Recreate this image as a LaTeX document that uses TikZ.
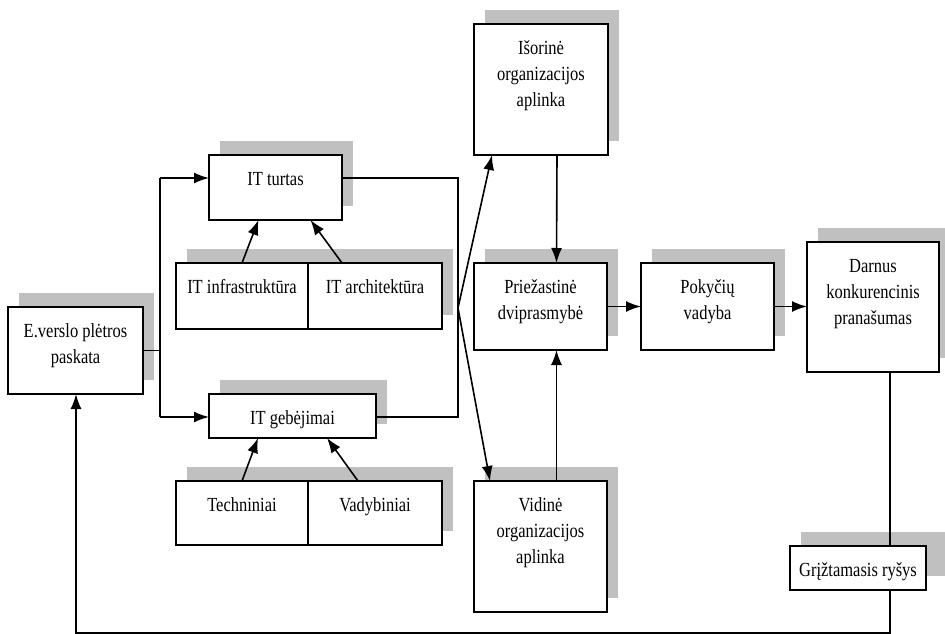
\documentclass[tikz,border=0pt]{standalone}
\usepackage{fontspec}
\setmainfont{Liberation Serif}[FakeStretch=0.825]
\usetikzlibrary{arrows.meta,calc}
\definecolor{shadowgray}{RGB}{192,192,192}
\tikzset{
  boxst/.style={draw=black, line width=1.5pt, fill=white, inner sep=0pt, outer sep=0pt},
  txtst/.style={inner sep=0pt, align=center, font=\fontsize{20}{26}\selectfont, anchor=north},
  shadowst/.style={fill=shadowgray, draw=none},
  conn/.style={line width=1.2pt},
  arr/.style={line width=1.6pt, -{Latex[length=15pt,width=11pt]}},
}
\newcommand\shbox[6]{%
  \path[shadowst] (#2+11,#3-14) rectangle (#4+11,#5-14);
  \node[boxst, minimum width={#4-#2}, minimum height={#5-#3}] (#1) at ({(#2+#4)/2},{(#3+#5)/2}) {};
  \node[txtst] (#1-t) at ({(#2+#4)/2},{#3+12.5}) {#6};
}
\begin{document}
\begin{tikzpicture}[x=1pt,y=-1pt]
\useasboundingbox (0,0) rectangle (945,634);
\shbox{ev}{8}{307}{143}{394}{\strut E.verslo plėtros\\\strut paskata}
\shbox{itt}{209}{155}{342}{220}{\strut IT turtas}
\shbox{itinf}{176}{263}{308}{329}{\strut IT infrastruktūra}
\shbox{itarch}{308}{263}{442}{329}{\strut IT architektūra}
\shbox{itg}{209}{394}{376}{438}{\strut IT gebėjimai}
\shbox{tech}{176}{481}{308}{545}{\strut Techniniai}
\shbox{vad}{308}{481}{442}{545}{\strut Vadybiniai}
\shbox{isor}{474}{24}{608}{155}{\strut Išorinė\\\strut organizacijos\\\strut aplinka}
\shbox{prie}{474}{263}{607}{350}{\strut Priežastinė\\\strut dviprasmybė}
\shbox{vid}{474}{481}{607}{612}{\strut Vidinė\\\strut organizacijos\\\strut aplinka}
\shbox{pok}{641}{263}{774}{350}{\strut Pokyčių\\\strut vadyba}
\shbox{darn}{807}{242}{939}{372}{\strut Darnus\\\strut konkurencinis\\\strut pranašumas}
\path[shadowst] (801,532) rectangle (950,576);
\node[boxst, minimum width=136, minimum height=44] (grz) at (858,568) {};
\node[txtst] (grz-t) at (858,558.5) {\strut Grįžtamasis ryšys};
% left fork
\coordinate (j0) at (160,350.5);
\coordinate (ja) at (160,178);
\coordinate (jb) at (160,417);
\draw[conn] (ev.east) -- (j0);
\draw[conn] (ja) -- (jb);
\draw[arr] (ja) -- (itt.west |- ja);
\draw[arr] (jb) -- (itg.west |- jb);
% right fork
\coordinate (ka) at (458,178);
\coordinate (kb) at (458,417);
\coordinate (kv) at (458,308);
\draw[conn] (itt.east |- ka) -- (ka) -- (kb) -- (itg.east |- kb);
\draw[arr] (kv) -- ($(isor.south west)+(18,0)$);
\draw[arr] (kv) -- ($(vid.north west)+(16,0)$);
% sub arrows
\draw[arr] (itinf.north) -- ($(itt.south)+(-17,0)$);
\draw[arr] ($(itarch.north)+(-33,0)$) -- ($(itt.south)+(35,0)$);
\draw[arr] (tech.north) -- ($(itg.south)+(-34.5,0)$);
\draw[arr] ($(vad.north)+(-17,0)$) -- ($(itg.south)+(34.5,0)$);
% middle
\draw[arr] ($(isor.south)+(16,0)$) -- ($(prie.north)+(16,0)$);
\draw[arr] ($(vid.north)+(16,0)$) -- ($(prie.south)+(16,0)$);
\draw[arr] (prie.east) -- (pok.west);
\draw[arr] (pok.east) -- (darn.west |- pok.east);
% feedback
\coordinate (fb) at (890,633);
\coordinate (fc) at (76,633);
\draw[conn] (darn.south -| fb) -- (grz.north -| fb);
\draw[arr] (grz.south -| fb) -- (fb) -- (fc) -- (ev.south -| fc);
\end{tikzpicture}
\end{document}
